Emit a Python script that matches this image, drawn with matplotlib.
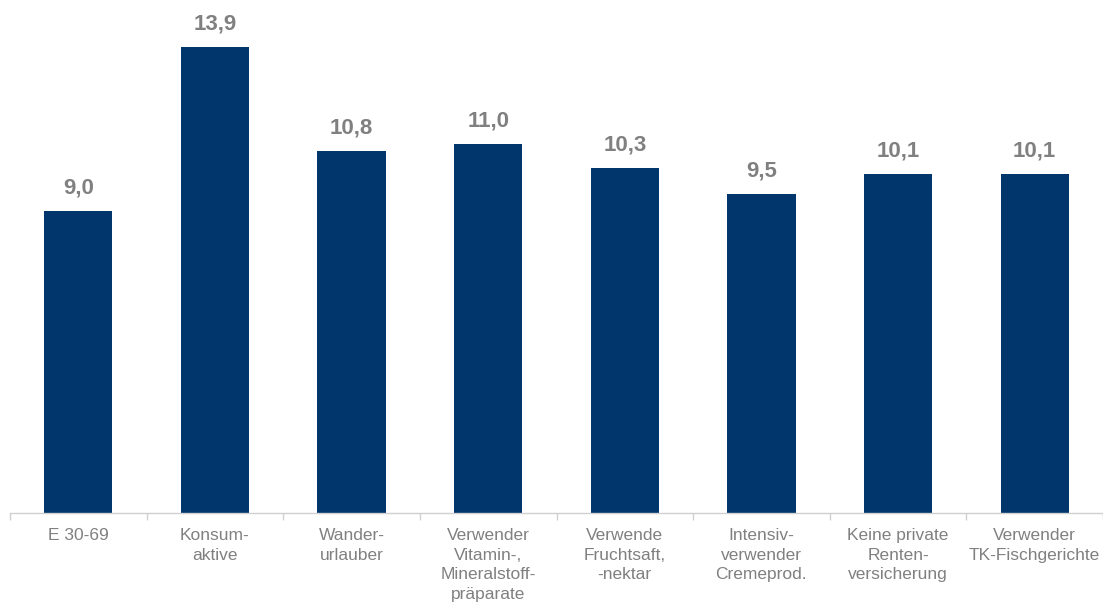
import matplotlib.pyplot as plt
import numpy as np

plt.rcParams['font.family'] = ['Liberation Sans', 'DejaVu Sans']

# Data
categories = [
    'E 30-69',
    'Konsum-\naktive',
    'Wander-\nurlauber',
    'Verwender\nVitamin-,\nMineralstoff-\npräparate',
    'Verwende\nFruchtsaft,\n-nektar',
    'Intensiv-\nverwender\nCremeprod.',
    'Keine private\nRenten-\nversicherung',
    'Verwender\nTK-Fischgerichte',
]
values = [9.0, 13.9, 10.8, 11.0, 10.3, 9.5, 10.1, 10.1]

BAR_COLOR = '#00366C'
TEXT_COLOR = '#808080'
AXIS_COLOR = '#D0D0D0'

fig = plt.figure(figsize=(11.03, 6.06), dpi=100)
ax = fig.add_axes([10 / 1103, 93 / 606, 1 - 10 / 1103, 503 / 606])

x = np.arange(len(categories))
bars = ax.bar(x, values, width=0.5, color=BAR_COLOR)

for xi, v in zip(x, values):
    ax.annotate(f"{v:.1f}".replace('.', ','), (xi, v), xytext=(0, 9),
                textcoords='offset points', ha='center', va='bottom',
                fontsize=16, fontweight='bold', color=TEXT_COLOR)

ax.set_xlim(-0.5, len(categories) - 0.5)
ax.set_ylim(0, 15)

ax.set_xticks(x)
ax.set_xticklabels(categories, fontsize=12.5, color=TEXT_COLOR, linespacing=1.38)
ax.tick_params(axis='x', which='major', length=0, pad=11)
ax.set_xticks(np.arange(-0.5, len(categories)), minor=True)
ax.tick_params(axis='x', which='minor', length=5, color=AXIS_COLOR, width=1)

ax.set_yticks([])
for side in ['top', 'right', 'left']:
    ax.spines[side].set_visible(False)
ax.spines['bottom'].set_color(AXIS_COLOR)
ax.spines['bottom'].set_linewidth(1)

fig.savefig('out.png', dpi=100)
